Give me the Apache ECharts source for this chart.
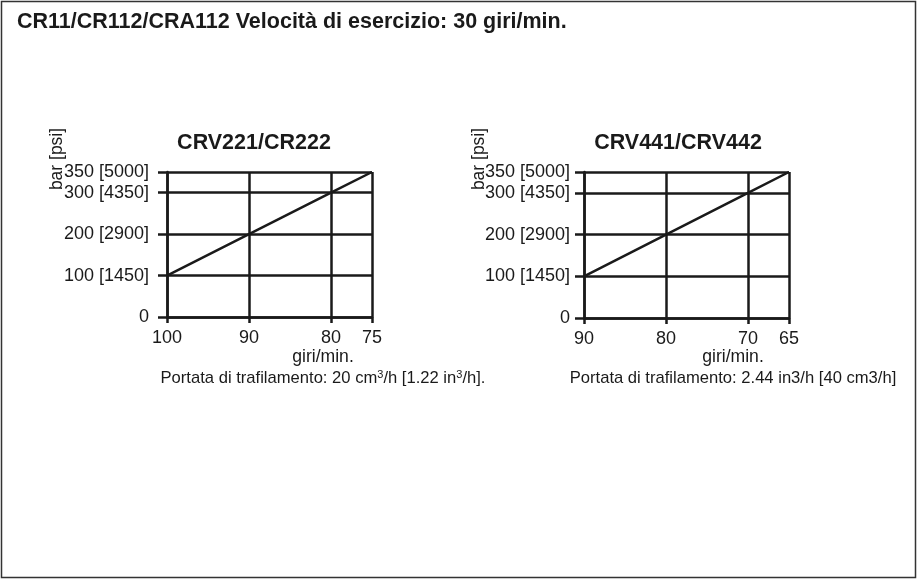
<!DOCTYPE html>
<html lang="it">
  <head>
    <meta charset="UTF-8" />
    <title>CR11/CR112/CRA112</title>
    <script src="https://cdn.jsdelivr.net/npm/echarts@6/dist/echarts.min.js"></script>
    <style>
      html, body { margin: 0; padding: 0; background: #fff; }
      #main { width: 919px; height: 580px; }
    </style>
  </head>
  <body>
    <div id="main"></div>
    <script>
      // pressure ticks (bar) and their psi equivalents
      var barTicks = [0, 100, 200, 300, 350];
      var psiTicks = [null, 1450, 2900, 4350, 5000];

      // CRV221/CR222
      var leftRpm = [100, 90, 80, 75];
      var leftBar = [100, 200, 300, 350];

      // CRV441/CRV442
      var rightRpm = [90, 80, 70, 65];
      var rightBar = [100, 200, 300, 350];

      var ink = "#1a1a1a";
      var font = "Liberation Sans";

      function yLabel(v) {
        var i = barTicks.indexOf(v);
        return psiTicks[i] == null ? String(v) : v + " [" + psiTicks[i] + "]";
      }

      function pairs(xs, ys) {
        return xs.map(function (x, i) { return [x, ys[i]]; });
      }

      function xAxisFor(idx, ticks) {
        return {
          type: "value",
          gridIndex: idx,
          inverse: true,
          min: Math.min.apply(null, ticks),
          max: Math.max.apply(null, ticks),
          axisLine: { show: true, lineStyle: { color: ink, width: 2.5 } },
          axisTick: { show: true, length: 6, customValues: ticks, lineStyle: { color: ink, width: 2.5 } },
          axisLabel: { customValues: ticks, margin: 12, color: ink, fontSize: 18, fontFamily: font },
          splitLine: { show: true, lineStyle: { color: ink, width: 2.5 } },
        };
      }

      function yAxisFor(idx, margin) {
        return {
          type: "value",
          gridIndex: idx,
          min: 0,
          max: 350,
          axisLine: { show: true, lineStyle: { color: ink, width: 2.5 } },
          axisTick: { show: true, length: 9, customValues: barTicks, lineStyle: { color: ink, width: 2.5 } },
          axisLabel: { customValues: barTicks, margin: margin, color: ink, fontSize: 18, fontFamily: font, formatter: yLabel },
          splitLine: { show: true, lineStyle: { color: ink, width: 2.5 } },
        };
      }

      function note(x, y, rich) {
        return {
          type: "text",
          x: x,
          y: y,
          style: {
            text: rich,
            align: "center",
            verticalAlign: "middle",
            fill: ink,
            font: "16.6px " + font,
            rich: {
              n: { fontSize: 16.6, fontFamily: font, fill: ink, color: ink },
              g: { fontSize: 17.6, fontFamily: font, fill: ink, color: ink },
              s: { fontSize: 11, fontFamily: font, fill: ink, color: ink, verticalAlign: "top" },
            },
          },
        };
      }

      var chart = echarts.init(document.getElementById("main"));
      var option = {
        backgroundColor: "#fff",
        animation: false,
        title: [
          {
            text: "CR11/CR112/CRA112 Velocità di esercizio: 30 giri/min.",
            left: 12,
            top: 6,
            textStyle: { color: ink, fontSize: 21.5, fontWeight: "bold", fontFamily: font },
          },
          {
            text: "CRV221/CR222",
            left: 249,
            top: 127,
            textAlign: "center",
            textStyle: { color: ink, fontSize: 21.5, fontWeight: "bold", fontFamily: font },
          },
          {
            text: "CRV441/CRV442",
            left: 673,
            top: 127,
            textAlign: "center",
            textStyle: { color: ink, fontSize: 21.5, fontWeight: "bold", fontFamily: font },
          },
        ],
        grid: [
          { left: 167, top: 172, width: 205, height: 145 },
          { left: 584, top: 172, width: 205, height: 146 },
        ],
        xAxis: [xAxisFor(0, leftRpm), xAxisFor(1, rightRpm)],
        yAxis: [yAxisFor(0, 18), yAxisFor(1, 14)],
        series: [
          {
            type: "line",
            xAxisIndex: 0,
            yAxisIndex: 0,
            data: pairs(leftRpm, leftBar),
            symbol: "none",
            lineStyle: { color: ink, width: 2.5 },
          },
          {
            type: "line",
            xAxisIndex: 1,
            yAxisIndex: 1,
            data: pairs(rightRpm, rightBar),
            symbol: "none",
            lineStyle: { color: ink, width: 2.5 },
          },
        ],
        graphic: [
          {
            type: "rect",
            shape: { x: 1.5, y: 1.5, width: 914, height: 576 },
            style: { fill: "none", stroke: "#333", lineWidth: 1.5 },
            silent: true,
          },
          {
            type: "text",
            x: 57,
            y: 159,
            rotation: Math.PI / 2,
            style: { text: "bar [psi]", align: "center", verticalAlign: "middle", fill: ink, font: "17.5px " + font },
          },
          {
            type: "text",
            x: 479,
            y: 159,
            rotation: Math.PI / 2,
            style: { text: "bar [psi]", align: "center", verticalAlign: "middle", fill: ink, font: "17.5px " + font },
          },
          note(323, 357, "{g|giri/min.}"),
          note(323, 378, "{n|Portata di trafilamento: 20 cm}{s|3}{n|/h [1.22 in}{s|3}{n|/h].}"),
          note(733, 357, "{g|giri/min.}"),
          note(733, 378, "{n|Portata di trafilamento: 2.44 in3/h [40 cm3/h]}"),
        ],
      };
      chart.setOption(option);
    </script>
  </body>
</html>
